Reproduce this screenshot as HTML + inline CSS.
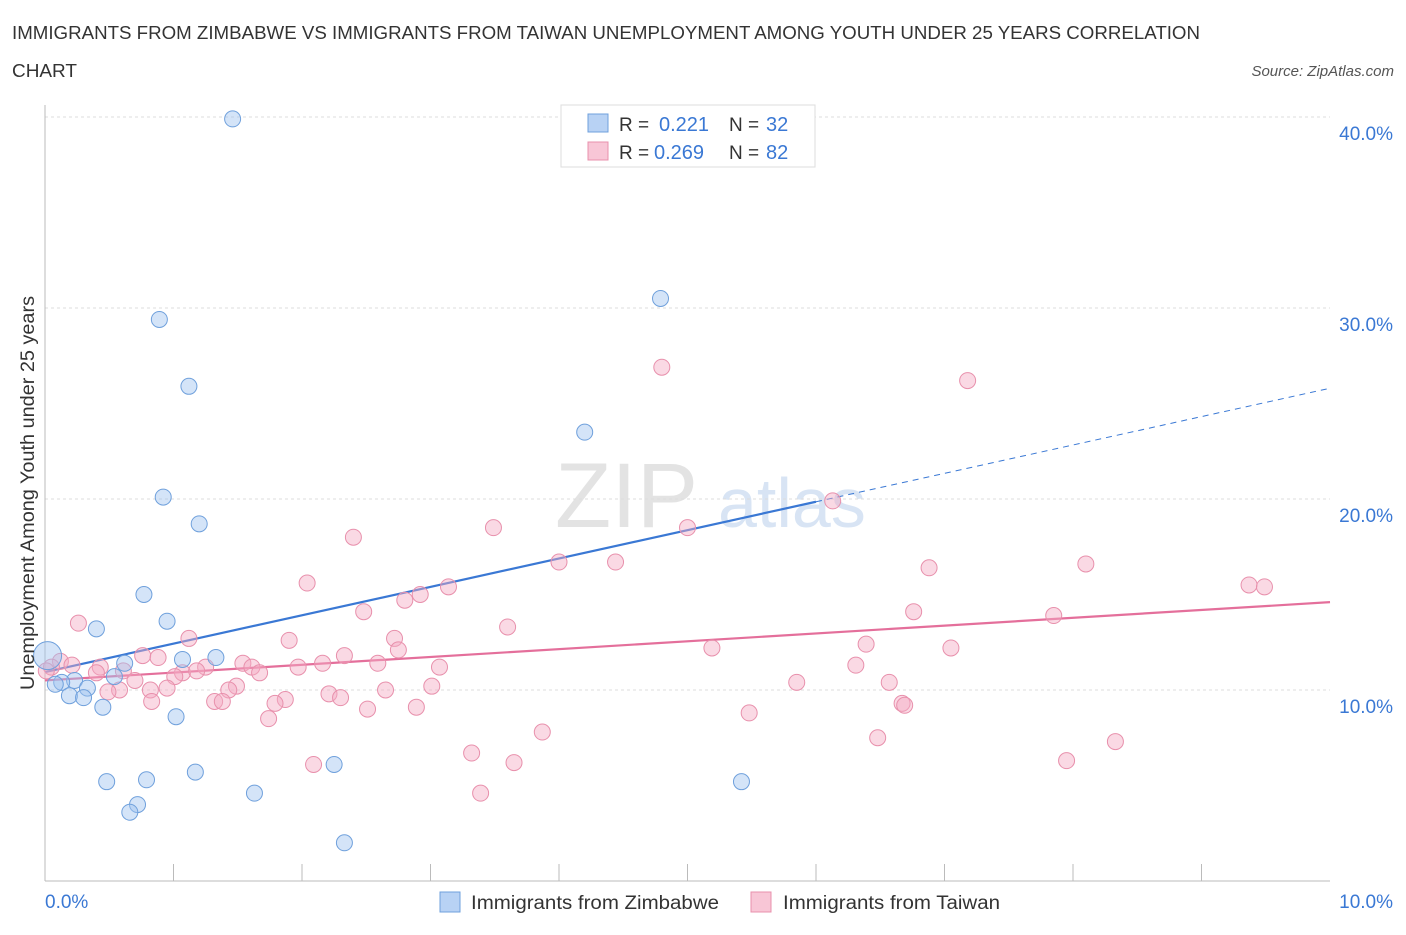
<!DOCTYPE html>
<html><head><meta charset="utf-8"><style>
body{margin:0;background:#fff;font-family:"Liberation Sans",sans-serif;}
svg text{font-family:"Liberation Sans",sans-serif;}
</style></head><body>
<svg id="chart" width="1406" height="930" xmlns="http://www.w3.org/2000/svg">
<text x="12" y="39" font-size="18" fill="#333" textLength="1188" lengthAdjust="spacingAndGlyphs">IMMIGRANTS FROM ZIMBABWE VS IMMIGRANTS FROM TAIWAN UNEMPLOYMENT AMONG YOUTH UNDER 25 YEARS CORRELATION</text>
<text x="12" y="77" font-size="18" fill="#333" textLength="65" lengthAdjust="spacingAndGlyphs">CHART</text>
<text x="1394" y="76" font-size="15" font-style="italic" fill="#555" text-anchor="end">Source: ZipAtlas.com</text>
<text x="555" y="527" font-size="92" font-family="Liberation Serif" fill="#ddd" opacity="0.8">ZIP</text>
<text x="718" y="527" font-size="70" fill="#c8daf0" opacity="0.7">atlas</text>
<g id="grid"></g>
<g id="axes"></g>
<g id="lines"></g>
<g id="points"></g>
<text transform="translate(34,493) rotate(-90)" font-size="19" fill="#333" text-anchor="middle" textLength="394" lengthAdjust="spacingAndGlyphs">Unemployment Among Youth under 25 years</text>
<g>
<rect x="561" y="105" width="254" height="62" fill="#fff" stroke="#ddd"/>
<rect x="588" y="114" width="20" height="18" fill="#b8d2f4" stroke="#6fa0dc"/>
<rect x="588" y="142" width="20" height="18" fill="#f8c6d6" stroke="#e890ac"/>
<text x="619" y="131" font-size="19" fill="#333">R = </text><text x="659" y="131" font-size="20" fill="#3a78d4">0.221</text>
<text x="729" y="131" font-size="19" fill="#333">N = </text><text x="766" y="131" font-size="20" fill="#3a78d4">32</text>
<text x="619" y="159" font-size="19" fill="#333">R = </text><text x="654" y="159" font-size="20" fill="#3a78d4">0.269</text>
<text x="729" y="159" font-size="19" fill="#333">N = </text><text x="766" y="159" font-size="20" fill="#3a78d4">82</text>
</g>
<g>
<rect x="440" y="892" width="20" height="20" fill="#b8d2f4" stroke="#6fa0dc"/>
<text x="471" y="909" font-size="19" fill="#333" textLength="248" lengthAdjust="spacingAndGlyphs">Immigrants from Zimbabwe</text>
<rect x="751" y="892" width="20" height="20" fill="#f8c6d6" stroke="#e890ac"/>
<text x="783" y="909" font-size="19" fill="#333" textLength="217" lengthAdjust="spacingAndGlyphs">Immigrants from Taiwan</text>
</g>
</svg>
<script>
const yTicks=[10,20,30,40];
const yTickLabels=["10.0%","20.0%","30.0%","40.0%"];
const xTickLabels=["0.0%","10.0%"];
const zimX=[1.46,4.79,0.89,1.12,4.20,0.92,1.20,0.77,0.95,0.40,1.07,1.33,0.62,0.54,0.23,0.33,0.13,0.08,0.19,0.30,0.45,1.02,0.48,0.79,1.17,0.72,0.66,1.63,2.25,2.33,5.42,0.02];
const zimY=[39.9,30.5,29.4,25.9,23.5,20.1,18.7,15.0,13.6,13.2,11.6,11.7,11.4,10.7,10.5,10.1,10.4,10.3,9.7,9.6,9.1,8.6,5.2,5.3,5.7,4.0,3.6,4.6,6.1,2.0,5.2,11.8];
const twX=[7.18,4.80,6.13,3.49,5.00,2.40,4.00,4.44,8.10,6.88,2.04,9.37,9.49,3.14,2.92,2.80,2.48,6.76,7.85,0.26,3.60,1.12,1.90,2.72,2.75,6.39,5.19,7.05,2.33,0.76,0.88,0.12,0.21,0.43,0.61,1.25,1.54,1.61,1.67,1.97,2.16,2.59,3.07,6.31,1.07,1.01,1.18,0.70,1.49,1.43,0.58,0.95,0.82,5.85,6.57,3.01,2.65,2.21,2.30,1.87,1.79,1.32,1.38,0.83,6.67,6.69,2.51,2.89,1.74,5.48,3.87,6.48,3.32,8.33,2.09,3.65,7.95,3.39,0.05,0.49,0.40,0.01];
const twY=[26.2,26.9,19.9,18.5,18.5,18.0,16.7,16.7,16.6,16.4,15.6,15.5,15.4,15.4,15.0,14.7,14.1,14.1,13.9,13.5,13.3,12.7,12.6,12.7,12.1,12.4,12.2,12.2,11.8,11.8,11.7,11.5,11.3,11.2,11.0,11.2,11.4,11.2,10.9,11.2,11.4,11.4,11.2,11.3,10.9,10.7,11.0,10.5,10.2,10.0,10.0,10.1,10.0,10.4,10.4,10.2,10.0,9.8,9.6,9.5,9.3,9.4,9.4,9.4,9.3,9.2,9.0,9.1,8.5,8.8,7.8,7.5,6.7,7.3,6.1,6.2,6.3,4.6,11.2,9.9,10.9,11.0];
const zimTrend=[10.94,25.8];
const twTrend=[10.5,14.6];
const NS="http://www.w3.org/2000/svg";
const X=v=>45+v*128.5;
const Y=v=>881-v*19.1;
function mk(tag,attrs,parent){const e=document.createElementNS(NS,tag);for(const k in attrs)e.setAttribute(k,attrs[k]);document.getElementById(parent).appendChild(e);return e;}
yTicks.forEach((t,i)=>{
 const g=mk('line',{x1:45,x2:1330,y1:Y(t),y2:Y(t),stroke:'#ddd','stroke-dasharray':'3,3'},'grid');
 
 
 const l=mk('text',{x:1393,y:Y(t)+23,'font-size':19,fill:'#3a78d4','text-anchor':'end'},'axes');
 l.textContent=yTickLabels[i];
 
 
});
const ax=mk('line',{x1:45,x2:45,y1:105,y2:881,stroke:'#bbb'},'axes');


const bx=mk('line',{x1:45,x2:1330,y1:881,y2:881,stroke:'#bbb'},'axes');


for(let i=0;i<=10;i++){
 const t=mk('line',{x1:X(i),x2:X(i),y1:881,y2:i%10==0?881:864,stroke:'#bbb'},'axes');
 
 
}
const xl0=mk('text',{x:45,y:908,'font-size':19,fill:'#3a78d4'},'axes');
xl0.textContent=xTickLabels[0];


const xl1=mk('text',{x:1393,y:908,'font-size':19,fill:'#3a78d4','text-anchor':'end'},'axes');
xl1.textContent=xTickLabels[1];


function ty(tr,x){return tr[0]+(tr[1]-tr[0])*x/10;}
const b1=mk('line',{x1:X(0),y1:Y(ty(zimTrend,0)),x2:X(6),y2:Y(ty(zimTrend,6)),stroke:'#3a78d4','stroke-width':2.2},'lines');


const b2=mk('line',{x1:X(6),y1:Y(ty(zimTrend,6)),x2:X(10),y2:Y(ty(zimTrend,10)),stroke:'#3a78d4','stroke-width':1,'stroke-dasharray':'6,5'},'lines');


const p1=mk('line',{x1:X(0),y1:Y(ty(twTrend,0)),x2:X(10),y2:Y(ty(twTrend,10)),stroke:'#e46f9b','stroke-width':2.2},'lines');


twX.forEach((x,i)=>{
 const c=mk('circle',{cx:X(x),cy:Y(twY[i]),r:8,fill:'rgba(244,170,195,0.45)',stroke:'#e890ac','stroke-width':1},'points');
 
 
});
zimX.forEach((x,i)=>{
 const c=mk('circle',{cx:X(x),cy:Y(zimY[i]),r:i==zimX.length-1?14:8,fill:'rgba(160,195,240,0.45)',stroke:'#6fa0dc','stroke-width':1},'points');
 
 
});
</script>
</body></html>
